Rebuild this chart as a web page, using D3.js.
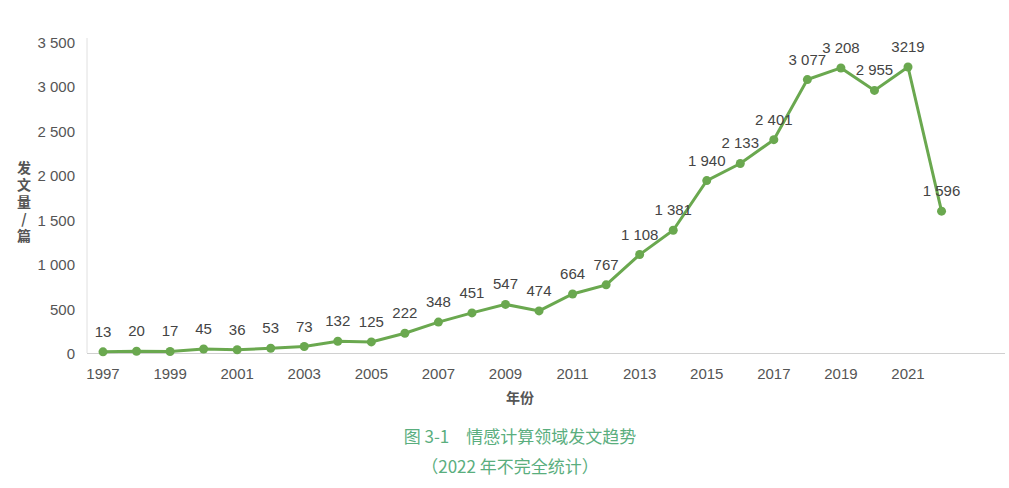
<!DOCTYPE html>
<html><head><meta charset="utf-8">
<script src="https://cdn.jsdelivr.net/npm/d3@7"></script>
<style>body{margin:0;background:#fff}</style>
</head><body>
<svg id="c" width="1009" height="488"></svg>
<script>
var years = d3.range(1997, 2023);
var counts = [13,20,17,45,36,53,73,132,125,222,348,451,547,474,664,767,1108,1381,1940,2133,2401,3077,3208,2955,3219,1596];
var labels = ["13","20","17","45","36","53","73","132","125","222","348","451","547","474","664","767","1 108","1 381","1 940","2 133","2 401","3 077","3 208","2 955","3219","1 596"];
var yTicks = [0,500,1000,1500,2000,2500,3000,3500];
var yTitle = ["发","文","量","/","篇"];

var svg = d3.select("#c");
var font = "'Liberation Sans', Arial, sans-serif";
var x = d3.scaleLinear().domain([1997, 2021]).range([103, 908]);
var y = d3.scaleLinear().domain([0, 3500]).range([353, 42]);
var fmt = function(v){ return v >= 1000 ? Math.floor(v/1000) + " " + d3.format("03")(v%1000) : String(v); };

// axes lines
svg.append("line").attr("x1",87).attr("x2",87).attr("y1",38).attr("y2",353).attr("stroke","#e0e0e0");
svg.append("line").attr("x1",87).attr("x2",1005).attr("y1",353.5).attr("y2",353.5).attr("stroke","#d0d0d0");

svg.selectAll(".yt").data(yTicks).enter().append("text")
  .attr("x",75).attr("y",d=>y(d)+6).attr("text-anchor","end")
  .attr("font-family",font).attr("font-size",15).attr("fill","#555").text(fmt);

svg.selectAll(".xt").data(years.filter(d=>d%2==1)).enter().append("text")
  .attr("x",d=>x(d)).attr("y",379).attr("text-anchor","middle")
  .attr("font-family",font).attr("font-size",15).attr("fill","#555").text(d=>d);

// axis titles
svg.append("text").attr("x",520).attr("y",403).attr("text-anchor","middle")
  .attr("font-family","'Noto Sans CJK SC'").attr("font-size",14).attr("font-weight","bold").attr("fill","#555").text("年份");
svg.append("text").attr("text-anchor","middle")
  .attr("font-family","'Noto Sans CJK SC'").attr("font-size",14).attr("font-weight","bold").attr("fill","#555")
  .selectAll("tspan").data(yTitle).enter().append("tspan")
  .attr("x",24).attr("y",(d,i)=>173+i*17).text(d=>d);

// line
var pts = years.map((yr,i)=>({yr:yr,v:counts[i],l:labels[i]}));
svg.append("path").datum(pts)
  .attr("d", d3.line().x(d=>x(d.yr)).y(d=>y(d.v)))
  .attr("fill","none").attr("stroke","#6aa84f").attr("stroke-width",3);
svg.selectAll(".pt").data(pts).enter().append("circle")
  .attr("cx",d=>x(d.yr)).attr("cy",d=>y(d.v)).attr("r",4.5).attr("fill","#6aa84f");
svg.selectAll(".lb").data(pts).enter().append("text")
  .attr("x",d=>x(d.yr)).attr("y",d=>y(d.v)-15).attr("text-anchor","middle")
  .attr("font-family",font).attr("font-size",15).attr("fill","#444").text(d=>d.l);

// caption
svg.append("text").attr("x",520).attr("y",443).attr("text-anchor","middle")
  .attr("font-family","'Noto Sans CJK SC'").attr("font-size",17).attr("fill","#5aae7e").text("图 3-1　情感计算领域发文趋势");
svg.append("text").attr("x",510).attr("y",473).attr("text-anchor","middle")
  .attr("font-family","'Noto Sans CJK SC'").attr("font-size",17).attr("fill","#5aae7e").text("（2022 年不完全统计）");
</script>
</body></html>
